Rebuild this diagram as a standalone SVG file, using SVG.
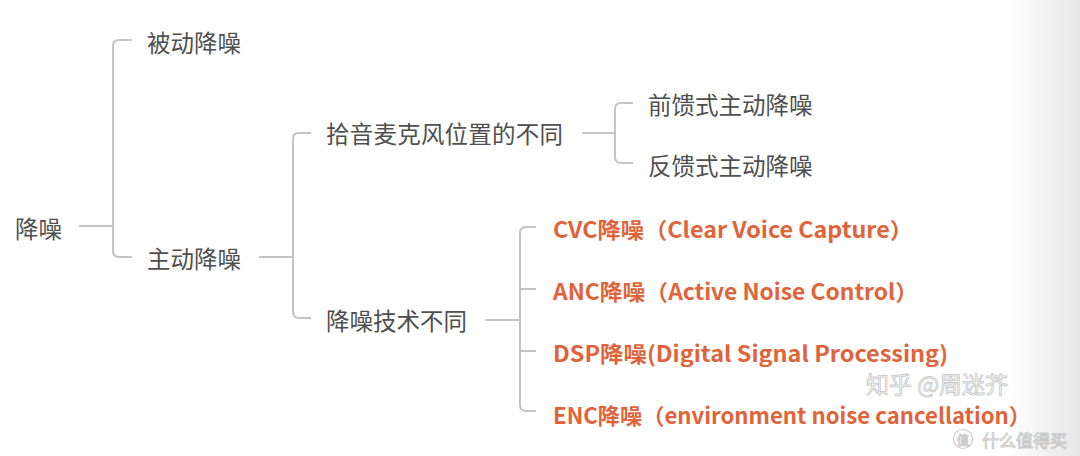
<svg xmlns="http://www.w3.org/2000/svg" width="1080" height="456" viewBox="0 0 1080 456">
  <defs>
    <linearGradient id="edge" x1="0" y1="0" x2="1" y2="0">
      <stop offset="0" stop-color="#e6e6e6" stop-opacity="0"/>
      <stop offset="1" stop-color="#e6e6e6" stop-opacity="1"/>
    </linearGradient>
    <style>
      .t { font-family: "Noto Sans CJK SC", "Noto Sans", sans-serif; font-size: 23.5px; fill: #4f4f4f; dominant-baseline: central; }
      .o { font-family: "Noto Sans CJK SC", "Noto Sans", sans-serif; font-size: 22px; font-weight: 700; fill: #e0643a; dominant-baseline: central; }
      .c { fill: none; stroke: #c4c4c4; stroke-width: 2; stroke-linecap: butt; }
      .wm { font-family: "Noto Sans CJK SC", sans-serif; fill: #ffffff; fill-opacity: 0.6; stroke: #9a9a9a; stroke-opacity: 0.5; stroke-width: 1; dominant-baseline: central; }
    </style>
  </defs>
  <rect x="0" y="0" width="1080" height="456" fill="#ffffff"/>
  <rect x="1010" y="0" width="70" height="456" fill="url(#edge)"/>

  <g id="connectors">
    <path class="c" d="M79 226 H113"/>
    <path class="c" d="M132 40 H119 Q113 40 113 46 V251 Q113 257 119 257 H132"/>
    <path class="c" d="M259 257 H293"/>
    <path class="c" d="M311 133 H299 Q293 133 293 139 V312 Q293 318 299 318 H311"/>
    <path class="c" d="M582 133 H615"/>
    <path class="c" d="M633 103 H621 Q615 103 615 109 V157 Q615 163 621 163 H633"/>
    <path class="c" d="M485 320 H520"/>
    <path class="c" d="M536 227 H526 Q520 227 520 233 V405 Q520 411 526 411 H536"/>
    <path class="c" d="M520 289 H536 M520 351 H536"/>
  </g>

  <g id="node-root"><text class="t" x="15" y="228">降噪</text></g>
  <g id="node-passive"><text class="t" x="147" y="42">被动降噪</text></g>
  <g id="node-active"><text class="t" x="147" y="258">主动降噪</text></g>
  <g id="node-mic"><text class="t" x="326" y="133" textLength="237">拾音麦克风位置的不同</text></g>
  <g id="node-tech"><text class="t" x="326" y="320">降噪技术不同</text></g>
  <g id="node-ff"><text class="t" x="648" y="104">前馈式主动降噪</text></g>
  <g id="node-fb"><text class="t" x="648" y="165">反馈式主动降噪</text></g>
  <g id="node-cvc"><text class="o" x="553" y="228" textLength="360" lengthAdjust="spacingAndGlyphs">CVC降噪（Clear Voice Capture）</text></g>
  <g id="node-anc"><text class="o" x="553" y="290" textLength="365" lengthAdjust="spacingAndGlyphs">ANC降噪（Active Noise Control）</text></g>
  <g id="node-dsp"><text class="o" x="553" y="352" textLength="395" lengthAdjust="spacingAndGlyphs">DSP降噪(Digital Signal Processing)</text></g>
  <g id="node-enc"><text class="o" x="553" y="414" textLength="478" lengthAdjust="spacingAndGlyphs">ENC降噪（environment noise cancellation）</text></g>

  <g id="watermark">
    <text class="wm" x="866" y="383" font-size="23">知乎 @周迷芥</text>
    <circle cx="963" cy="439" r="9.5" fill="none" stroke="#a0a0a0" stroke-opacity="0.5" stroke-width="1.2"/>
    <text class="wm" x="963" y="439" font-size="12" text-anchor="middle">值</text>
    <text class="wm" x="982" y="439" font-size="17">什么值得买</text>
  </g>
</svg>
